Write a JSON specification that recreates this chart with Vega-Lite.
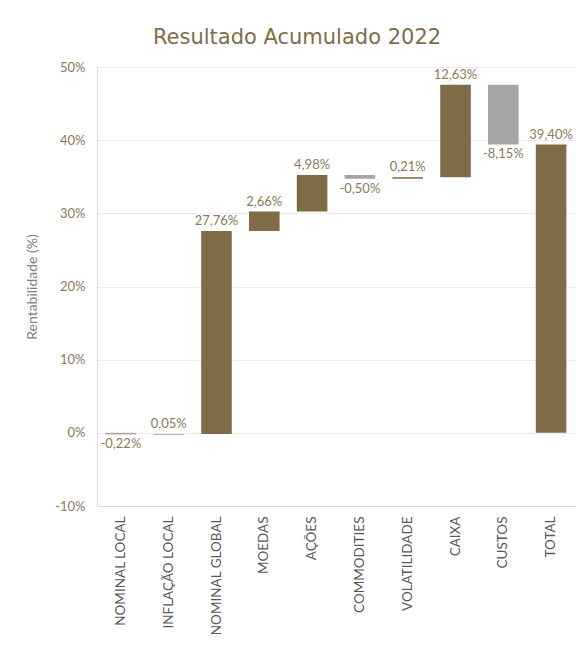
{
  "$schema": "https://vega.github.io/schema/vega-lite/v6.json",
  "autosize": {"type": "none"},
  "width": 478,
  "height": 439,
  "padding": {"left": 97, "top": 67, "right": 1, "bottom": 142},
  "background": "white",
  "title": {
    "text": "Resultado Acumulado 2022",
    "font": "DejaVu Sans",
    "fontSize": 21,
    "fontWeight": "normal",
    "color": "#7F6D48",
    "anchor": "middle",
    "dx": -39,
    "offset": 13
  },
  "data": {
    "values": [
      {"cat": "NOMINAL LOCAL", "start": 0, "end": -0.22, "label": "-0,22%", "kind": "neg"},
      {"cat": "INFLAÇÃO LOCAL", "start": -0.22, "end": -0.17, "label": "0,05%", "kind": "pos"},
      {"cat": "NOMINAL GLOBAL", "start": -0.17, "end": 27.59, "label": "27,76%", "kind": "pos"},
      {"cat": "MOEDAS", "start": 27.59, "end": 30.25, "label": "2,66%", "kind": "pos"},
      {"cat": "AÇÕES", "start": 30.25, "end": 35.23, "label": "4,98%", "kind": "pos"},
      {"cat": "COMMODITIES", "start": 35.23, "end": 34.73, "label": "-0,50%", "kind": "neg"},
      {"cat": "VOLATILIDADE", "start": 34.73, "end": 34.94, "label": "0,21%", "kind": "pos"},
      {"cat": "CAIXA", "start": 34.94, "end": 47.57, "label": "12,63%", "kind": "pos"},
      {"cat": "CUSTOS", "start": 47.57, "end": 39.42, "label": "-8,15%", "kind": "neg"},
      {"cat": "TOTAL", "start": 0, "end": 39.40, "label": "39,40%", "kind": "pos"}
    ]
  },
  "encoding": {
    "x": {
      "field": "cat",
      "type": "nominal",
      "sort": null,
      "scale": {"paddingInner": 0.36, "paddingOuter": 0.18},
      "axis": {
        "title": null,
        "labelAngle": -90,
        "labelFont": "Lato",
        "labelFontSize": 13.5,
        "labelColor": "#595959",
        "labelPadding": 10,
        "ticks": false,
        "domainColor": "#D9D9D9",
        "labelLimit": 140
      }
    }
  },
  "layer": [
    {
      "mark": {"type": "bar", "strokeWidth": 0},
      "encoding": {
        "y": {
          "field": "start",
          "type": "quantitative",
          "scale": {"domain": [-10, 50], "nice": false},
          "axis": {
            "values": [-10, 0, 10, 20, 30, 40, 50],
            "labelExpr": "datum.value + '%'",
            "title": "Rentabilidade (%)",
            "titleFont": "Lato",
            "titleFontSize": 14,
            "titleFontWeight": "normal",
            "titleColor": "#808080",
            "titlePadding": 15,
            "labelFont": "Lato",
            "labelFontSize": 13,
            "labelColor": "#8B7B55",
            "labelPadding": 12,
            "ticks": false,
            "domainColor": "#D9D9D9",
            "gridColor": "#EBEBEB"
          }
        },
        "y2": {"field": "end"},
        "color": {
          "field": "kind",
          "type": "nominal",
          "scale": {"domain": ["pos", "neg"], "range": ["#806C47", "#A6A6A6"]},
          "legend": null
        }
      }
    },
    {
      "transform": [{"filter": "datum.kind == 'pos'"}],
      "mark": {"type": "text", "baseline": "bottom", "dy": -3, "font": "Lato", "fontSize": 13, "color": "#8B7B55"},
      "encoding": {
        "y": {"field": "end", "type": "quantitative"},
        "text": {"field": "label"}
      }
    },
    {
      "transform": [{"filter": "datum.kind == 'neg'"}],
      "mark": {"type": "text", "baseline": "top", "dy": 4, "font": "Lato", "fontSize": 13, "color": "#8B7B55"},
      "encoding": {
        "y": {"field": "end", "type": "quantitative"},
        "text": {"field": "label"}
      }
    }
  ],
  "config": {"view": {"stroke": null}}
}
